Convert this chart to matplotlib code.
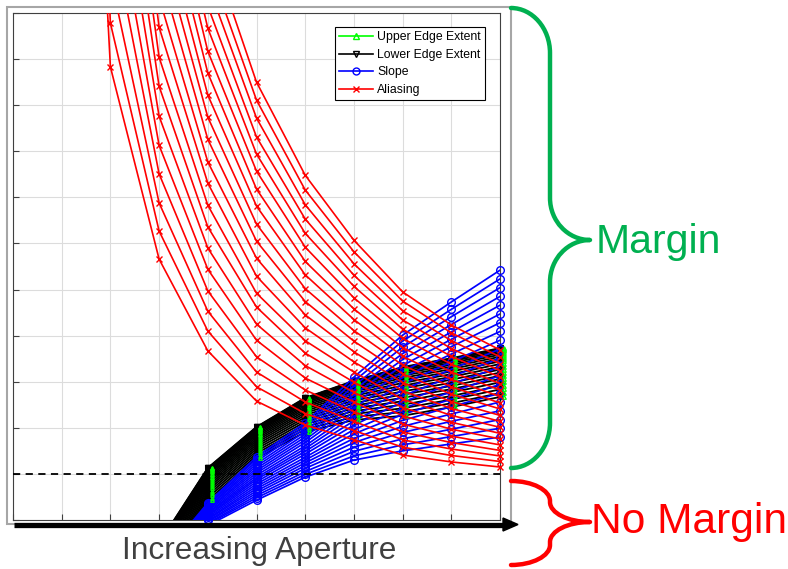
import numpy as np
import matplotlib
matplotlib.use("Agg")
import matplotlib.pyplot as plt
from matplotlib.lines import Line2D
from matplotlib.path import Path
from matplotlib.patches import PathPatch, Rectangle, Polygon

plt.rcParams['font.family'] = ['Liberation Sans', 'DejaVu Sans']

# aperture steps
alias_x = [1, 2, 3, 4, 5, 6, 7, 8, 9, 10]
edge_x = [3, 4, 5, 6, 7, 8, 9, 10]

# Aliasing: one row per x step, one value per curve (20 curves)
alias_cols = [
    [30, 33, 36, 39, 42, 45, 48, 51, 54, 57, 60, 63, 66, 69, 72, 75, 78, 81, 84, 87],
    [9.83, 10.78, 11.8, 12.9, 14.0, 15.2, 16.5, 17.8, 19.2, 20.6, 22.0, 23.5, 25.0, 26.5, 28.0, 29.5, 31.0, 32.5, 34.0, 35.5],
    [5.66, 6.27, 6.88, 7.51, 8.13, 8.76, 9.41, 10.04, 10.69, 11.33, 11.97, 12.6, 13.25, 13.9, 14.55, 15.2, 15.85, 16.5, 17.15, 17.8],
    [3.67, 4.10, 4.53, 4.97, 5.44, 5.90, 6.36, 6.83, 7.31, 7.77, 8.26, 8.74, 9.22, 9.70, 10.17, 10.67, 11.15, 11.63, 12.1, 12.6],
    [2.58, 2.89, 3.21, 3.54, 3.90, 4.25, 4.62, 4.92, 5.29, 5.68, 6.05, 6.42, 6.81, 7.18, 7.57, 7.94, 8.31, 8.72, 9.11, 9.50],
    [2.06, 2.31, 2.56, 2.82, 3.08, 3.35, 3.62, 3.89, 4.17, 4.45, 4.74, 5.02, 5.32, 5.61, 5.92, 6.22, 6.53, 6.84, 7.16, 7.48],
    [1.74, 1.94, 2.14, 2.35, 2.56, 2.77, 2.99, 3.21, 3.43, 3.65, 3.88, 4.11, 4.35, 4.58, 4.82, 5.07, 5.31, 5.56, 5.82, 6.07],
    [1.41, 1.58, 1.74, 1.91, 2.08, 2.26, 2.44, 2.62, 2.80, 2.98, 3.17, 3.36, 3.55, 3.74, 3.94, 4.14, 4.34, 4.54, 4.75, 4.95],
    [1.26, 1.40, 1.54, 1.68, 1.82, 1.97, 2.12, 2.27, 2.42, 2.57, 2.73, 2.89, 3.05, 3.21, 3.38, 3.55, 3.72, 3.89, 4.06, 4.23],
    [1.15, 1.27, 1.39, 1.51, 1.63, 1.76, 1.88, 2.01, 2.14, 2.27, 2.41, 2.54, 2.68, 2.82, 2.96, 3.10, 3.24, 3.39, 3.54, 3.69],
]

# Slope: rows = x steps 3..10
slope_cols = [
    [-1.20, -1.18, -1.17, -1.15, -1.14, -1.12, -1.11, -1.09, -1.07, -1.06, -1.04, -1.03, -1.01, -0.99, -0.98, -0.96, -0.95, -0.93, -0.92, -0.90],
    [-0.12, -0.09, -0.07, -0.04, -0.02, 0.01, 0.03, 0.06, 0.09, 0.11, 0.14, 0.16, 0.19, 0.22, 0.24, 0.27, 0.29, 0.32, 0.34, 0.37],
    [0.43, 0.48, 0.53, 0.58, 0.63, 0.68, 0.73, 0.78, 0.83, 0.88, 0.92, 0.97, 1.02, 1.07, 1.12, 1.17, 1.22, 1.27, 1.32, 1.37],
    [0.93, 0.99, 1.05, 1.12, 1.18, 1.24, 1.30, 1.36, 1.43, 1.49, 1.55, 1.61, 1.68, 1.74, 1.80, 1.86, 1.92, 1.99, 2.05, 2.11],
    [1.30, 1.39, 1.49, 1.58, 1.68, 1.77, 1.87, 1.96, 2.06, 2.15, 2.25, 2.34, 2.44, 2.53, 2.63, 2.72, 2.82, 2.91, 3.01, 3.10],
    [1.50, 1.63, 1.76, 1.90, 2.03, 2.16, 2.29, 2.42, 2.56, 2.69, 2.82, 2.95, 3.09, 3.22, 3.35, 3.48, 3.61, 3.75, 3.88, 4.01],
    [1.65, 1.81, 1.97, 2.14, 2.30, 2.46, 2.62, 2.78, 2.95, 3.11, 3.27, 3.43, 3.60, 3.76, 3.92, 4.08, 4.24, 4.41, 4.57, 4.73],
    [1.80, 1.99, 2.18, 2.37, 2.56, 2.75, 2.94, 3.13, 3.32, 3.51, 3.71, 3.90, 4.09, 4.28, 4.47, 4.66, 4.85, 5.04, 5.23, 5.42],
]

# Lower edge extent: rows = x steps 3..10
lower_cols = [
    [-1.60, -1.51, -1.43, -1.35, -1.27, -1.20, -1.12, -1.05, -0.98, -0.92, -0.86, -0.80, -0.75, -0.70, -0.65, -0.61, -0.57, -0.54, -0.51, -0.50],
    [0.43, 0.485, 0.538, 0.589, 0.639, 0.688, 0.734, 0.779, 0.822, 0.863, 0.902, 0.939, 0.973, 1.006, 1.036, 1.062, 1.086, 1.106, 1.122, 1.13],
    [1.34, 1.393, 1.445, 1.494, 1.543, 1.590, 1.635, 1.679, 1.721, 1.760, 1.798, 1.834, 1.868, 1.900, 1.928, 1.954, 1.977, 1.997, 2.012, 2.02],
    [1.91, 1.968, 2.024, 2.078, 2.131, 2.182, 2.231, 2.279, 2.324, 2.367, 2.409, 2.448, 2.484, 2.519, 2.550, 2.578, 2.603, 2.625, 2.641, 2.65],
    [2.17, 2.236, 2.301, 2.363, 2.424, 2.483, 2.539, 2.593, 2.646, 2.695, 2.743, 2.788, 2.830, 2.870, 2.905, 2.938, 2.966, 2.991, 3.010, 3.02],
    [2.26, 2.343, 2.423, 2.501, 2.577, 2.650, 2.720, 2.788, 2.854, 2.915, 2.974, 3.031, 3.083, 3.132, 3.177, 3.217, 3.253, 3.284, 3.307, 3.32],
    [2.45, 2.533, 2.613, 2.691, 2.767, 2.840, 2.910, 2.978, 3.044, 3.105, 3.164, 3.221, 3.273, 3.322, 3.367, 3.407, 3.443, 3.474, 3.497, 3.51],
    [2.67, 2.753, 2.833, 2.911, 2.987, 3.060, 3.130, 3.198, 3.264, 3.325, 3.384, 3.441, 3.493, 3.542, 3.587, 3.627, 3.663, 3.694, 3.717, 3.73],
]

# upper edge extent sits on the lower edge values; its markers land a hair to the right
upper_cols = lower_cols
upper_shift = 0.08

margin_level = 1.0
YMAX = 11

GREEN = (0, 1, 0)
BLUE = (0, 0, 1)
RED = (1, 0, 0)


def draw_lines(ax, xs, cols, color, lw, z):
    curves = np.array(cols, dtype=float).T
    for yv in curves:
        ax.plot(xs, yv, color=color, lw=lw, zorder=z)


def draw_marks(ax, xs, cols, color, marker, ms, mew, z):
    curves = np.array(cols, dtype=float).T
    xs = np.array(xs, dtype=float)
    for yv in curves:
        keep = (yv >= 0) & (yv <= YMAX)
        ax.plot(xs[keep], yv[keep], ls='none', marker=marker, mfc='none',
                mec=color, ms=ms, mew=mew, zorder=z, clip_on=False)


def brace(ax, x0, xm, xt, ytop, ymid, ybot, re, rt, color, lw):
    verts = [
        (x0, ytop),
        (x0 + 0.55 * (xm - x0), ytop), (xm, ytop + 0.45 * re), (xm, ytop + re),
        (xm, ymid - rt),
        (xm, ymid - 0.45 * rt), (xt - 0.55 * (xt - xm), ymid), (xt, ymid),
        (xt - 0.55 * (xt - xm), ymid), (xm, ymid + 0.45 * rt), (xm, ymid + rt),
        (xm, ybot - re),
        (xm, ybot - 0.45 * re), (x0 + 0.55 * (xm - x0), ybot), (x0, ybot),
    ]
    codes = [Path.MOVETO] + [Path.CURVE4] * 3 + [Path.LINETO] + [Path.CURVE4] * 6 \
        + [Path.LINETO] + [Path.CURVE4] * 3
    ax.add_patch(PathPatch(Path(verts, codes), fc='none', ec=color, lw=lw,
                           capstyle='round', joinstyle='round'))


fig = plt.figure(figsize=(7.88, 5.69), dpi=100)
W, H = 788, 569
ax = fig.add_axes([13 / W, (H - 520) / H, 487 / W, 507 / H])

# green lines hide under the black ones, green markers stay visible beside them
draw_lines(ax, edge_x, upper_cols, GREEN, 0.4, 2)
draw_lines(ax, edge_x, lower_cols, 'black', 1.3, 3)
draw_marks(ax, edge_x, lower_cols, 'black', 'v', 4.0, 1.0, 3.1)
draw_lines(ax, edge_x, slope_cols, BLUE, 1.25, 4)
draw_marks(ax, edge_x, slope_cols, BLUE, 'o', 5.5, 1.0, 4.1)
draw_marks(ax, [x + upper_shift for x in edge_x], upper_cols, GREEN, '^', 2.6, 0.9, 4.5)
draw_lines(ax, alias_x, alias_cols, RED, 1.2, 5)
draw_marks(ax, alias_x, alias_cols, RED, 'x', 5.0, 1.0, 5.1)

ax.axhline(margin_level, color='black', ls=(0, (4, 3)), lw=1.3, zorder=6)

ax.set_xlim(0, 10)
ax.set_ylim(0, YMAX)
ax.set_xticks(range(11))
ax.set_yticks(range(YMAX + 1))
ax.set_xticklabels([])
ax.set_yticklabels([])
ax.tick_params(direction='in', length=4, color='#404040', width=0.8)
ax.grid(True, color='#dcdcdc', lw=0.8)
ax.set_axisbelow(True)
for s in ax.spines.values():
    s.set_color('#404040')
    s.set_linewidth(0.8)

handles = [
    Line2D([], [], color=GREEN, marker='^', mfc='none', ms=5, lw=1.2),
    Line2D([], [], color='black', marker='v', mfc='none', ms=5, lw=1.2),
    Line2D([], [], color=BLUE, marker='o', mfc='none', ms=5, lw=1.2),
    Line2D([], [], color=RED, marker='x', ms=5, lw=1.2),
]
labels = ['Upper Edge Extent', 'Lower Edge Extent', 'Slope', 'Aliasing']
leg = ax.legend(handles, labels, loc='upper right', bbox_to_anchor=(0.969, 0.972),
                borderaxespad=0, fontsize=8.8, fancybox=False, framealpha=1,
                edgecolor='black', handlelength=2.8, handletextpad=0.3,
                labelspacing=0.45, borderpad=0.35)
leg.get_frame().set_linewidth(0.8)
leg.set_zorder(10)

# overlay in pixel coordinates for the annotations
ov = fig.add_axes([0, 0, 1, 1], zorder=5)
ov.set_xlim(0, W)
ov.set_ylim(H, 0)
ov.axis('off')

ov.add_patch(Rectangle((7, 7), 504, 517, fc='none', ec='#a6a6a6', lw=1.5))
ov.plot([14, 505], [524.5, 524.5], color='black', lw=3.8, solid_capstyle='butt')
ov.add_patch(Polygon([(503, 518), (518, 524.5), (503, 531)], closed=True, fc='black', ec='black'))

ov.text(259.5, 551, 'Increasing Aperture', ha='center', va='center',
        fontsize=22.8, color='#404040')

brace(ov, 511, 550, 590, 8, 240, 468, 45, 42, '#00b050', 3.2)
brace(ov, 511, 550, 590, 481, 522, 565, 20, 20, '#ff0000', 3.2)
ov.text(596, 242, 'Margin', ha='left', va='center', fontsize=29.5, color='#00b050')
ov.text(591, 522, 'No Margin', ha='left', va='center', fontsize=30.6, color='#ff0000')

fig.savefig('out.png', dpi=100)
